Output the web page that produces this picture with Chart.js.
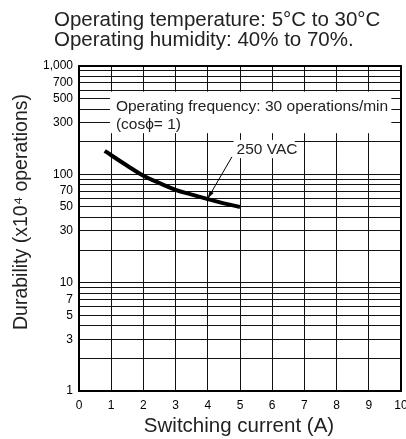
<!DOCTYPE html>
<html>
<head>
<meta charset="utf-8">
<script src="https://cdn.jsdelivr.net/npm/chart.js@4/dist/chart.umd.min.js"></script>
<style>
  html, body { margin: 0; padding: 0; background: #fff; }
  #wrap { width: 406px; height: 439px; }
</style>
</head>
<body>
<div id="wrap"><canvas id="chart" width="406" height="439"></canvas></div>
<script>
// ---- data ----
const currentA = [0.8, 1, 1.5, 2, 2.5, 3, 3.5, 4, 4.5, 5];
const durability = [165, 150, 120, 97, 83, 72, 65, 59, 54, 50];

const xTicks = [0, 1, 2, 3, 4, 5, 6, 7, 8, 9, 10];
const yGrid = [1, 2, 3, 4, 5, 6, 7, 8, 9, 10, 20, 30, 40, 50, 60, 70, 80, 90,
  100, 200, 300, 400, 500, 600, 700, 800, 900, 1000];
const yLabels = [1, 3, 5, 7, 10, 30, 50, 70, 100, 300, 500, 700, 1000];

const titleLines = ['Operating temperature: 5\u00b0C to 30\u00b0C', 'Operating humidity: 40% to 70%.'];
const noteLines = ['Operating frequency: 30 operations/min', '(cos\u03d5= 1)'];
const noteBox = { x0: 0.96, x1: 9.7, y0: 240, y1: 580 };
const seriesLabel = '250 VAC';
const labelBox = { x0: 4.8, x1: 6.7, y0: 141, y1: 208 };
const arrowFrom = { x: 4.75, y: 145 };
const arrowTo = { x: 4.0, y: 60 };

const FONT = '"Liberation Sans", Arial, sans-serif';
const NARROW = '"Liberation Sans Narrow", "Liberation Sans", Arial, sans-serif';

// white boxes + notes drawn over the grid, under the curve
const overlays = {
  id: 'overlays',
  beforeDatasetsDraw(chart) {
    const { ctx, scales: { x, y } } = chart;
    ctx.save();
    ctx.fillStyle = '#fff';
    [noteBox, labelBox].forEach(b => {
      const l = x.getPixelForValue(b.x0), r = x.getPixelForValue(b.x1);
      const t = y.getPixelForValue(b.y1), btm = y.getPixelForValue(b.y0);
      ctx.fillRect(l, t, r - l, btm - t);
    });
    ctx.fillStyle = '#222';
    ctx.font = '15.5px ' + FONT;
    ctx.textBaseline = 'middle';
    const nx = x.getPixelForValue(noteBox.x0) + 6;
    ctx.fillText(noteLines[0], nx, 107);
    ctx.fillText(noteLines[1], nx, 125);
    ctx.fillText(seriesLabel, x.getPixelForValue(labelBox.x0) + 3, 150);

    // arrow from label to curve
    const ax = x.getPixelForValue(arrowFrom.x), ay = y.getPixelForValue(arrowFrom.y);
    const bx = x.getPixelForValue(arrowTo.x), by = y.getPixelForValue(arrowTo.y);
    ctx.strokeStyle = '#000';
    ctx.lineWidth = 1;
    ctx.beginPath();
    ctx.moveTo(ax, ay);
    ctx.lineTo(bx, by);
    ctx.stroke();
    const ang = Math.atan2(by - ay, bx - ax);
    ctx.beginPath();
    ctx.moveTo(bx, by);
    ctx.lineTo(bx - 8 * Math.cos(ang - 0.3), by - 8 * Math.sin(ang - 0.3));
    ctx.lineTo(bx - 8 * Math.cos(ang + 0.3), by - 8 * Math.sin(ang + 0.3));
    ctx.closePath();
    ctx.fillStyle = '#000';
    ctx.fill();
    ctx.restore();
  },
  afterDraw(chart) {
    const { ctx, chartArea: a } = chart;
    ctx.save();
    // frame
    ctx.strokeStyle = '#000';
    ctx.lineWidth = 2;
    ctx.strokeRect(a.left, a.top, a.right - a.left, a.bottom - a.top);
    // header
    ctx.fillStyle = '#222';
    ctx.font = '20.5px ' + FONT;
    ctx.textAlign = 'left';
    ctx.textBaseline = 'middle';
    ctx.fillText(titleLines[0], 54, 20);
    ctx.fillText(titleLines[1], 54, 40);
    // axis titles
    ctx.textAlign = 'center';
    ctx.font = '20.5px ' + FONT;
    ctx.fillText('Switching current (A)', 239, 426);
    ctx.font = '19.5px ' + FONT;
    ctx.translate(22, 212);
    ctx.rotate(-Math.PI / 2);
    ctx.fillText('Durability (x10\u2074 operations)', 0, 0);
    ctx.restore();
  }
};

new Chart(document.getElementById('chart'), {
  type: 'line',
  data: {
    datasets: [{
      label: seriesLabel,
      data: currentA.map((c, i) => ({ x: c, y: durability[i] })),
      borderColor: '#000',
      borderWidth: 4,
      pointRadius: 0,
      tension: 0.4,
      fill: false,
    }]
  },
  options: {
    responsive: false,
    animation: false,
    layout: { padding: { top: 66, right: 5, left: 0, bottom: 0 } },
    plugins: { legend: { display: false }, tooltip: { enabled: false } },
    scales: {
      x: {
        type: 'linear',
        min: 0, max: 10,
        afterBuildTicks: s => { s.ticks = xTicks.map(v => ({ value: v })); },
        afterFit: s => { s.height = 48; s.paddingLeft = 0; s.paddingRight = 0; },
        grid: { color: '#111', lineWidth: 1, drawTicks: false },
        border: { display: false },
        ticks: { color: '#000', padding: 7, font: { family: NARROW, size: 12 } },
      },
      y: {
        type: 'logarithmic',
        min: 1, max: 1000,
        afterBuildTicks: s => { s.ticks = yGrid.map(v => ({ value: v })); },
        afterFit: s => { s.width = 79; s.paddingTop = 0; s.paddingBottom = 0; },
        grid: { color: '#111', lineWidth: 1, drawTicks: false },
        border: { display: false },
        ticks: {
          color: '#000', padding: 6, autoSkip: false,
          font: { family: NARROW, size: 12 },
          callback: v => yLabels.includes(v) ? v.toLocaleString('en-US') : '',
        },
      }
    }
  },
  plugins: [overlays]
});
</script>
</body>
</html>
